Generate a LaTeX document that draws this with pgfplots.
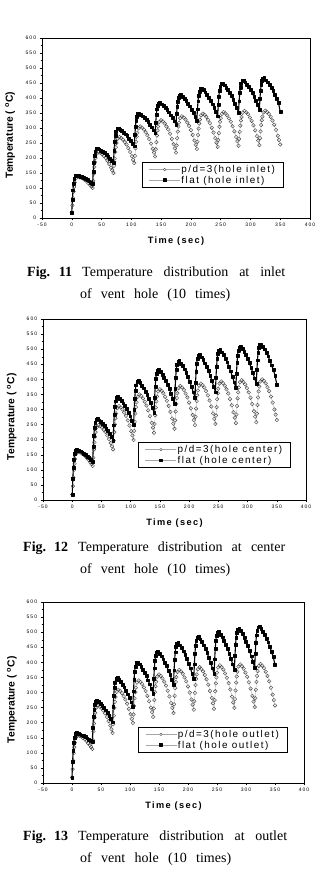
\documentclass[border=0pt]{standalone}
\usepackage{fontspec}
\setmainfont{Liberation Serif}
\newfontfamily\ticksf[LetterSpace=20]{Liberation Sans}
\newfontfamily\labsf[LetterSpace=15]{Liberation Sans}
\newfontfamily\ylabsf{Liberation Sans}
\newfontfamily\legsf[LetterSpace=15]{Liberation Sans}
\usepackage{pgfplots}
\pgfplotsset{compat=1.18}
\newcommand\capline[3]{\makebox[45pt][s]{\textbf{Fig. #1}}\hspace{10pt}\makebox[#2][s]{#3}}
\pgfplotsset{
  tempaxis/.style={
    scale only axis, width=266pt, height=180pt,
    xmin=-50, xmax=400, ymin=0, ymax=600,
    xtick={-50,0,...,400}, ytick={0,50,...,600},
    minor x tick num=1, minor y tick num=1,
    tick align=outside, xtick pos=bottom, ytick pos=left,
    major tick length=2.4pt, minor tick length=1.4pt,
    tick style={black, line width=0.4pt},
    axis line style={line width=0.6pt},
    /pgf/number format/assume math mode=true,
    tick label style={font=\ticksf\fontsize{5}{5}\selectfont},
    xticklabel style={yshift=0.5pt},
    xlabel={Time (sec)},
    ylabel={Temperature ( \textsuperscript{o}C)},
    xlabel style={font=\labsf\bfseries\fontsize{9.2}{10}\selectfont, at={(axis description cs:0.5,-0.13)}, anchor=center},
    ylabel style={font=\ylabsf\bfseries\fontsize{10.3}{11}\selectfont, at={(axis description cs:-0.119,0.46)}, anchor=center},
    legend cell align=left,
    legend style={anchor=north west, draw=black, line width=0.6pt, font=\legsf\fontsize{9.9}{10}\selectfont,
      nodes={inner sep=1.1pt}, inner xsep=7pt, inner ysep=1.8pt},
  },
  pdstyle/.style={gray!70, line width=0.3pt, mark=o, mark size=1.8pt, mark options={draw=black!75, fill=white, line width=0.4pt},
    legend image code/.code={\draw[gray!70, line width=0.4pt] (0pt,0pt) -- (31pt,0pt);
      \draw[black!75, fill=white, line width=0.35pt] (15.5pt,0pt) circle (1.3pt);}},
  flatstyle/.style={black, line width=1.1pt, line join=round, mark=square*, mark size=1.4pt, mark options={draw=black, fill=black, line width=0.2pt},
    legend image code/.code={\draw[gray!70, line width=0.4pt] (0pt,0pt) -- (31pt,0pt);
      \fill[black] (14.1pt,-1.4pt) rectangle (16.9pt,1.4pt);}},
}
\begin{document}
\begin{tikzpicture}
\path (0,0) rectangle (321pt,-875pt);

% ---------- Fig. 11 ----------
\begin{axis}[tempaxis, at={(42pt,-218pt)}, anchor=south west, width=268pt,
  legend style={at={(0.372,0.311)}}]
\addplot[pdstyle] coordinates {
(0,18)(1,42)(2,66)(3,88)(4,104)(5,118)(7,132)(10,138)(13,136)(16,134)(19,131)(22,127)(25,122)(28,116)(31,110)(33,105)
(35,100)(36,124)(37,148)(38,170)(39,186)(40,200)(42,214)(45,220)(48,217)(51,213)(54,207)(57,200)(60,191)(63,180)(66,168)(68,159)
(70,150)(71,174)(72,198)(73,220)(74,236)(75,250)(77,264)(80,270)(83,267)(86,261)(89,253)(92,245)(95,233)(98,220)(101,206)(103,194)
(105,183)(106,207)(107,232)(108,254)(109,271)(110,284)(112,299)(115,305)(118,301)(121,295)(124,286)(127,276)(130,263)(133,248)(136,231)(138,218)
(140,205)(141,229)(142,253)(143,275)(144,292)(145,305)(147,320)(150,326)(153,322)(156,315)(159,305)(162,295)(165,281)(168,264)(171,246)(173,232)
(175,218)(176,242)(177,266)(178,288)(179,305)(180,318)(182,333)(185,339)(188,335)(191,328)(194,318)(197,307)(200,293)(203,277)(206,258)(208,244)
(210,230)(211,254)(212,277)(213,298)(214,315)(215,328)(217,342)(220,348)(223,344)(226,337)(229,327)(232,316)(235,301)(238,285)(241,266)(243,251)
(245,237)(246,260)(247,283)(248,304)(249,321)(250,333)(252,347)(255,353)(258,349)(261,342)(264,332)(267,321)(270,306)(273,289)(276,270)(278,256)
(280,241)(281,264)(282,287)(283,308)(284,325)(285,337)(287,351)(290,357)(293,352)(296,346)(299,335)(302,324)(305,309)(308,292)(311,273)(313,258)
(315,243)(316,266)(317,289)(318,310)(319,326)(320,338)(322,352)(325,358)(328,353)(331,347)(334,337)(337,325)(340,311)(343,294)(346,274)(348,260)(350,245)
};
\addlegendentry{p/d=3(hole inlet)}
\addplot[flatstyle] coordinates {
(0,18)(1,62)(2,93)(3,116)(4,131)(6,141)(8,143)(11,141)(14,139)(17,137)(20,134)(23,131)(26,127)(29,123)(32,119)
(35,115)(36,156)(37,186)(38,207)(39,221)(41,231)(43,233)(46,230)(49,226)(52,222)(55,217)(58,212)(61,206)(64,199)(67,192)
(70,185)(71,225)(72,254)(73,275)(74,289)(76,298)(78,300)(81,296)(84,291)(87,286)(90,280)(93,274)(96,266)(99,258)(102,249)
(105,240)(106,279)(107,306)(108,326)(109,339)(111,348)(113,350)(116,345)(119,340)(122,335)(125,328)(128,321)(131,312)(134,303)(137,293)
(140,283)(141,319)(142,344)(143,363)(144,375)(146,383)(148,385)(151,380)(154,375)(157,368)(160,361)(163,353)(166,343)(169,334)(172,323)
(175,312)(176,347)(177,371)(178,389)(179,401)(181,409)(183,411)(186,405)(189,399)(192,391)(195,382)(198,373)(201,362)(204,351)(207,338)
(210,325)(211,363)(212,390)(213,409)(214,422)(216,431)(218,433)(221,427)(224,420)(227,412)(230,402)(233,392)(236,380)(239,368)(242,354)
(245,340)(246,379)(247,406)(248,426)(249,439)(251,448)(253,450)(256,443)(259,436)(262,428)(265,417)(268,407)(271,394)(274,381)(277,367)
(280,352)(281,390)(282,417)(283,436)(284,449)(286,458)(288,460)(291,453)(294,446)(297,438)(300,427)(303,417)(306,404)(309,391)(312,377)
(315,362)(316,399)(317,425)(318,444)(319,457)(321,465)(323,467)(326,460)(329,453)(332,445)(335,435)(338,424)(341,412)(344,399)(347,385)(350,355)
};
\addlegendentry{flat (hole inlet)}
\end{axis}
\node[anchor=west, font=\fontsize{14}{16}\selectfont, inner sep=0pt] at (27pt,-273pt)
  {\capline{11}{203pt}{Temperature distribution at inlet}};
\node[anchor=west, font=\fontsize{14}{16}\selectfont, inner sep=0pt] at (80pt,-295pt)
  {\makebox[150pt][s]{of vent hole (10 times)}};

% ---------- Fig. 12 ----------
\begin{axis}[tempaxis, at={(43pt,-500pt)}, anchor=south west, width=263pt, height=181pt,
  legend style={at={(0.361,0.32)}}]
\addplot[pdstyle] coordinates {
(0,18)(1,46)(2,75)(3,100)(4,120)(5,136)(7,153)(10,160)(13,158)(16,155)(19,151)(22,146)(25,140)(28,133)(31,125)(33,119)
(35,113)(36,140)(37,167)(38,191)(39,210)(40,225)(42,241)(45,248)(48,245)(51,240)(54,233)(57,225)(60,214)(63,202)(66,189)(68,178)
(70,168)(71,197)(72,225)(73,251)(74,271)(75,287)(77,304)(80,311)(83,307)(86,300)(89,290)(92,279)(95,264)(98,247)(101,228)(103,214)
(105,199)(106,229)(107,259)(108,287)(109,308)(110,324)(112,342)(115,350)(118,345)(121,337)(124,326)(127,313)(130,297)(133,278)(136,256)(138,240)
(140,223)(141,252)(142,281)(143,307)(144,327)(145,343)(147,360)(150,367)(153,362)(156,354)(159,342)(162,329)(165,312)(168,292)(171,270)(173,253)
(175,236)(176,264)(177,293)(178,318)(179,338)(180,354)(182,371)(185,378)(188,373)(191,365)(194,353)(197,340)(200,323)(203,304)(206,282)(208,265)
(210,248)(211,276)(212,303)(213,328)(214,347)(215,363)(217,379)(220,386)(223,381)(226,373)(229,361)(232,347)(235,330)(238,310)(241,287)(243,269)
(245,252)(246,280)(247,308)(248,334)(249,354)(250,369)(252,386)(255,393)(258,387)(261,379)(264,367)(267,353)(270,335)(273,314)(276,291)(278,273)
(280,255)(281,283)(282,312)(283,337)(284,357)(285,373)(287,390)(290,397)(293,391)(296,383)(299,371)(302,357)(305,339)(308,318)(311,294)(313,276)
(315,258)(316,286)(317,315)(318,340)(319,360)(320,376)(322,393)(325,400)(328,395)(331,387)(334,374)(337,361)(340,343)(343,323)(346,300)(348,283)(350,265)
};
\addlegendentry{p/d=3(hole center)}
\addplot[flatstyle] coordinates {
(0,18)(1,71)(2,108)(3,135)(4,153)(6,165)(8,168)(11,165)(14,162)(17,159)(20,155)(23,150)(26,145)(29,140)(32,134)
(35,128)(36,178)(37,213)(38,239)(39,256)(41,267)(43,270)(46,265)(49,260)(52,253)(55,246)(58,238)(61,229)(64,220)(67,209)
(70,198)(71,248)(72,284)(73,310)(74,328)(76,339)(78,342)(81,336)(84,329)(87,321)(90,312)(93,302)(96,290)(99,278)(102,264)
(105,250)(106,301)(107,337)(108,363)(109,381)(111,392)(113,395)(116,388)(119,380)(122,371)(125,360)(128,349)(131,335)(134,322)(137,306)
(140,290)(141,340)(142,376)(143,402)(144,419)(146,430)(148,433)(151,425)(154,417)(157,407)(160,396)(163,383)(166,369)(169,354)(172,337)
(175,320)(176,370)(177,405)(178,431)(179,448)(181,459)(183,462)(186,453)(189,445)(192,434)(195,422)(198,408)(201,392)(204,377)(207,358)
(210,340)(211,390)(212,426)(213,452)(214,469)(216,480)(218,483)(221,474)(224,466)(227,454)(230,442)(233,428)(236,412)(239,396)(242,377)
(245,358)(246,407)(247,443)(248,468)(249,485)(251,496)(253,499)(256,490)(259,481)(262,470)(265,457)(268,443)(271,427)(274,410)(277,391)
(280,372)(281,420)(282,455)(283,480)(284,496)(286,507)(288,510)(291,501)(294,493)(297,481)(300,469)(303,455)(306,439)(309,422)(312,404)
(315,385)(316,431)(317,464)(318,488)(319,504)(321,514)(323,517)(326,508)(329,500)(332,489)(335,477)(338,463)(341,447)(344,432)(347,413)(350,383)
};
\addlegendentry{flat (hole center)}
\end{axis}
\node[anchor=west, font=\fontsize{14}{16}\selectfont, inner sep=0pt] at (23pt,-548pt)
  {\capline{12}{207pt}{Temperature distribution at center}};
\node[anchor=west, font=\fontsize{14}{16}\selectfont, inner sep=0pt] at (80pt,-570pt)
  {\makebox[150pt][s]{of vent hole (10 times)}};

% ---------- Fig. 13 ----------
\begin{axis}[tempaxis, at={(43pt,-783pt)}, anchor=south west, width=261pt, height=181pt,
  legend style={at={(0.364,0.31)}}]
\addplot[pdstyle] coordinates {
(0,18)(1,46)(2,74)(3,99)(4,119)(5,134)(7,151)(10,158)(13,156)(16,154)(19,149)(22,145)(25,139)(28,132)(31,125)(33,119)
(35,113)(36,142)(37,171)(38,197)(39,217)(40,233)(42,250)(45,257)(48,253)(51,248)(54,240)(57,231)(60,219)(63,205)(66,190)(68,178)
(70,166)(71,195)(72,223)(73,249)(74,269)(75,285)(77,302)(80,309)(83,305)(86,298)(89,288)(92,277)(95,263)(98,246)(101,228)(103,213)
(105,199)(106,227)(107,255)(108,281)(109,301)(110,316)(112,333)(115,340)(118,335)(121,328)(124,317)(127,305)(130,289)(133,271)(136,250)(138,235)
(140,219)(141,247)(142,275)(143,301)(144,321)(145,336)(147,353)(150,360)(153,355)(156,347)(159,336)(162,323)(165,306)(168,287)(171,265)(173,249)
(175,232)(176,261)(177,289)(178,315)(179,335)(180,351)(182,368)(185,375)(188,370)(191,362)(194,350)(197,337)(200,320)(203,300)(206,277)(208,260)
(210,243)(211,271)(212,299)(213,325)(214,345)(215,360)(217,377)(220,384)(223,378)(226,370)(229,358)(232,344)(235,326)(238,305)(241,282)(243,264)
(245,246)(246,275)(247,304)(248,330)(249,350)(250,366)(252,383)(255,390)(258,384)(261,376)(264,363)(267,349)(270,331)(273,310)(276,286)(278,267)
(280,249)(281,278)(282,307)(283,333)(284,353)(285,369)(287,386)(290,393)(293,387)(296,379)(299,366)(302,352)(305,334)(308,313)(311,289)(313,270)
(315,252)(316,281)(317,309)(318,335)(319,355)(320,371)(322,388)(325,395)(328,389)(331,381)(334,369)(337,355)(340,337)(343,316)(346,293)(348,275)(350,257)
};
\addlegendentry{p/d=3(hole outlet)}
\addplot[flatstyle] coordinates {
(0,18)(1,70)(2,107)(3,133)(4,151)(6,163)(8,166)(11,164)(14,162)(17,159)(20,156)(23,153)(26,149)(29,145)(32,140)
(35,136)(36,184)(37,219)(38,244)(39,260)(41,271)(43,274)(46,269)(49,264)(52,257)(55,250)(58,242)(61,233)(64,224)(67,213)
(70,202)(71,253)(72,290)(73,317)(74,334)(76,346)(78,349)(81,342)(84,336)(87,327)(90,318)(93,307)(96,295)(99,283)(102,268)
(105,254)(106,305)(107,342)(108,369)(109,386)(111,398)(113,401)(116,394)(119,386)(122,377)(125,366)(128,355)(131,341)(134,328)(137,312)
(140,296)(141,345)(142,381)(143,406)(144,423)(146,434)(148,437)(151,429)(154,421)(157,411)(160,400)(163,388)(166,373)(169,359)(172,342)
(175,325)(176,374)(177,409)(178,434)(179,451)(181,462)(183,465)(186,457)(189,448)(192,437)(195,425)(198,412)(201,397)(204,381)(207,363)
(210,345)(211,394)(212,430)(213,455)(214,472)(216,483)(218,486)(221,477)(224,469)(227,457)(230,445)(233,431)(236,415)(239,399)(242,381)
(245,362)(246,411)(247,446)(248,471)(249,488)(251,499)(253,502)(256,493)(259,484)(262,473)(265,460)(268,446)(271,430)(274,413)(277,394)
(280,375)(281,423)(282,458)(283,483)(284,499)(286,510)(288,513)(291,504)(294,495)(297,483)(300,470)(303,455)(306,438)(309,421)(312,402)
(315,382)(316,430)(317,465)(318,490)(319,506)(321,517)(323,520)(326,512)(329,503)(332,492)(335,480)(338,467)(341,452)(344,436)(347,418)(350,392)
};
\addlegendentry{flat (hole outlet)}
\end{axis}
\node[anchor=west, font=\fontsize{14}{16}\selectfont, inner sep=0pt] at (23pt,-837pt)
  {\capline{13}{209pt}{Temperature distribution at outlet}};
\node[anchor=west, font=\fontsize{14}{16}\selectfont, inner sep=0pt] at (80pt,-859pt)
  {\makebox[151pt][s]{of vent hole (10 times)}};
\end{tikzpicture}
\end{document}
